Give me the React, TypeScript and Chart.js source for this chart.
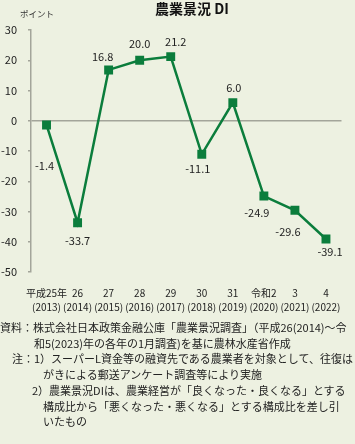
import React, { useEffect, useRef } from "react";
import { Chart, registerables } from "chart.js";

Chart.register(...registerables);

const categoryEras = ["平成25年", "26", "27", "28", "29", "30", "31", "令和2", "3", "4"];
const categoryYears = ["(2013)", "(2014)", "(2015)", "(2016)", "(2017)", "(2018)", "(2019)", "(2020)", "(2021)", "(2022)"];
const diValues = [-1.4, -33.7, 16.8, 20.0, 21.2, -11.1, 6.0, -24.9, -29.6, -39.1];
const yMin = -50;
const yMax = 30;
const yStep = 10;
const titleText = "農業景況 DI";
const unitText = "ポイント";

const noteLines = [
  { indent: 0, text: "資料：株式会社日本政策金融公庫「農業景況調査」（平成26(2014)～令" },
  { indent: 34, text: "和5(2023)年の各年の1月調査)を基に農林水産省作成" },
  { indent: 12, text: "注：1）スーパーL資金等の融資先である農業者を対象として、往復は" },
  { indent: 43, text: "がきによる郵送アンケート調査等により実施" },
  { indent: 32, text: "2）農業景況DIは、農業経営が「良くなった・良くなる」とする" },
  { indent: 43, text: "構成比から「悪くなった・悪くなる」とする構成比を差し引" },
  { indent: 43, text: "いたもの" },
];

// label placement offsets relative to each point (style, not data)
const labelOffsets: [number, number][] = [
  [-2, 41], [0, 18], [-6, -13], [0, -16], [5, -15],
  [-4, 14], [1, -15], [-7, 17], [-7, 22], [4, 13],
];

const BG = "rgb(237,241,225)";
const GREEN = "#0b7d3c";
const FONT = '"Noto Sans CJK JP", "Noto Sans", sans-serif';

export default function App() {
  const ref = useRef<HTMLCanvasElement | null>(null);

  useEffect(() => {
    if (!ref.current) return;
    const textPlugin = {
      id: "texts",
      afterDatasetsDraw(chart: any) {
        const ctx = chart.ctx;
        const meta = chart.getDatasetMeta(0);
        ctx.save();
        ctx.fillStyle = "#222";
        ctx.font = `11px ${FONT}`;
        ctx.textAlign = "center";
        ctx.textBaseline = "middle";
        meta.data.forEach((pt: any, i: number) => {
          const [dx, dy] = labelOffsets[i];
          ctx.fillText(diValues[i].toFixed(1), pt.x + dx, pt.y + dy);
        });
        ctx.font = `bold 14px ${FONT}`;
        ctx.fillStyle = "#111";
        ctx.fillText(titleText, 192, 9);
        ctx.font = `8.5px ${FONT}`;
        ctx.fillStyle = "#333";
        ctx.textAlign = "left";
        ctx.fillText(unitText, 20, 14);
        ctx.restore();
      },
    };

    const chart = new Chart(ref.current, {
      type: "line",
      data: {
        labels: categoryEras.map((e, i) => [e, categoryYears[i]]),
        datasets: [
          {
            data: diValues,
            borderColor: GREEN,
            backgroundColor: GREEN,
            borderWidth: 2.5,
            pointStyle: "rect",
            pointRadius: 6.3,
            pointBorderWidth: 0,
            tension: 0,
          },
        ],
      },
      options: {
        responsive: false,
        animation: false,
        devicePixelRatio: 1,
        layout: { padding: { top: 30, right: 11, left: 0, bottom: 0 } },
        plugins: {
          legend: { display: false },
          title: { display: false },
          tooltip: { enabled: false },
        },
        scales: {
          x: {
            offset: true,
            grid: { display: false, drawTicks: false },
            border: { display: false },
            ticks: {
              color: "#222",
              font: { family: FONT, size: 10, lineHeight: 1.4 },
              padding: 14,
              maxRotation: 0,
              autoSkip: false,
            },
          },
          y: {
            min: yMin,
            max: yMax,
            afterFit: (scale: any) => {
              scale.width = 31;
            },
            ticks: {
              stepSize: yStep,
              color: "#222",
              font: { family: FONT, size: 11 },
              padding: 11,
            },
            grid: {
              drawOnChartArea: true,
              color: (c: any) => (c.tick && c.tick.value === 0 ? "#a3a59a" : "rgba(0,0,0,0)"),
              lineWidth: 1.5,
              tickColor: "#a3a59a",
              tickLength: 3,
            },
            border: { display: true, color: "#a3a59a", width: 1.5 },
          },
        },
      },
      plugins: [textPlugin],
    });
    return () => chart.destroy();
  }, []);

  return (
    <div
      style={{
        position: "fixed",
        left: 0,
        top: 0,
        width: 355,
        height: 444,
        background: BG,
        overflow: "hidden",
        fontFamily: FONT,
      }}
    >
      <canvas ref={ref} width={355} height={328} style={{ display: "block", position: "absolute", left: 0, top: 0 }} />
      {noteLines.map((l, i) => (
        <div
          key={i}
          style={{
            position: "absolute",
            left: l.indent,
            top: 319 + i * 15.7,
            fontSize: 11,
            lineHeight: "16px",
            color: "#222",
            whiteSpace: "nowrap",
          }}
        >
          {l.text}
        </div>
      ))}
    </div>
  );
}
